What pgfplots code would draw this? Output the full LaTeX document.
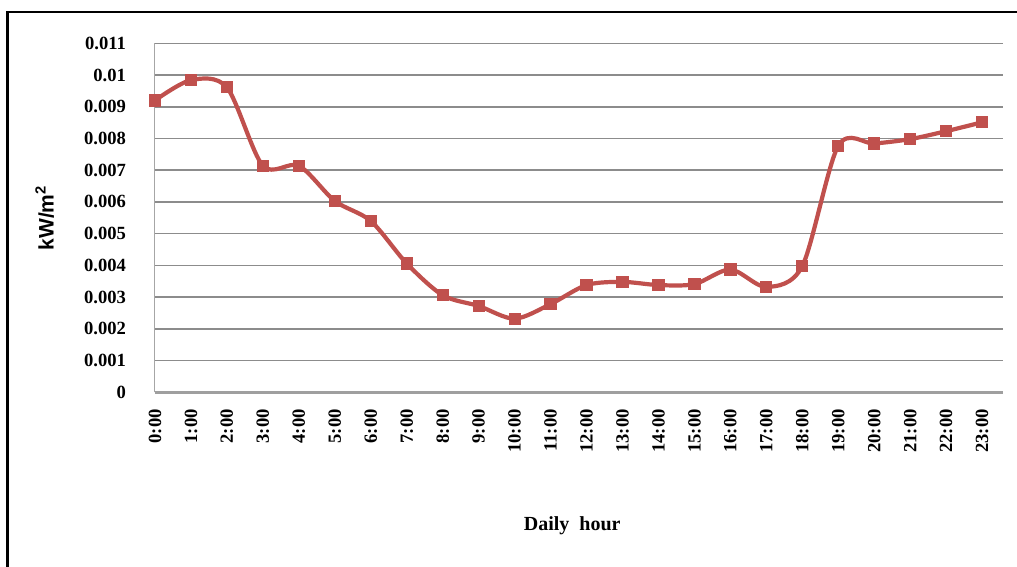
\documentclass[border=0pt]{standalone}
\usepackage{fontspec}
\setmainfont{Liberation Serif}
\newfontfamily\sansfont{Liberation Sans}
\usepackage{pgfplots}
\pgfplotsset{compat=1.18}
\definecolor{excelred}{HTML}{C0504D}
\definecolor{gridgray}{HTML}{8C8C8C}
\pgfplotstableread{
x y
0 0.00920
1 0.00984
2 0.00961
3 0.00714
4 0.00714
5 0.00603
6 0.00540
7 0.00406
8 0.00306
9 0.00272
10 0.00232
11 0.00278
12 0.00338
13 0.00348
14 0.00338
15 0.00341
16 0.00387
17 0.00332
18 0.00398
19 0.00777
20 0.00784
21 0.00798
22 0.00823
23 0.00851
}\datatable
\begin{document}
\begin{tikzpicture}
\useasboundingbox (0,0) rectangle (508.5pt,283.5pt);
% outer frame (left and top edges visible)
\draw[line width=1.3pt,black] (3.6pt,0) -- (3.6pt,277.5pt) -- (508.5pt,277.5pt);
\begin{axis}[
  at={(77.5pt,87.35pt)}, anchor=south west,
  scale only axis, width=424pt, height=174.5pt,
  xmin=0, xmax=23.58, ymin=0, ymax=0.011,
  clip=false,
  axis x line=bottom, axis y line=left,
  axis line style={-},
  x axis line style={draw=gray!75, line width=1.5pt},
  y axis line style={draw=gray!70, line width=0.5pt},
  major tick length=0pt,
  xtick={0,1,...,23},
  xticklabels={0:00,1:00,2:00,3:00,4:00,5:00,6:00,7:00,8:00,9:00,10:00,11:00,12:00,13:00,14:00,15:00,16:00,17:00,18:00,19:00,20:00,21:00,22:00,23:00},
  ytick={0,0.001,0.002,0.003,0.004,0.005,0.006,0.007,0.008,0.009,0.01,0.011},
  yticklabels={0,0.001,0.002,0.003,0.004,0.005,0.006,0.007,0.008,0.009,0.01,0.011},
  scaled y ticks=false,
  ymajorgrids,
  grid style={draw=gridgray, line width=0.75pt},
  ticklabel style={font=\fontsize{9.3}{11}\selectfont\bfseries},
  yticklabel style={anchor=east, xshift=-11pt},
  xticklabel style={yshift=-5pt, rotate=90, anchor=east},
  ylabel={\sansfont\bfseries kW/m\textsuperscript{2}},
  ylabel style={at={(axis description cs:-0.13,0.5)}, anchor=center, font=\fontsize{10.5}{12}\selectfont},
  xlabel={\bfseries Daily\ \ hour},
  xlabel style={at={(axis description cs:0.492,-0.381)}, anchor=center, font=\fontsize{10}{12}\selectfont},
]
\addplot[color=excelred, line width=2.1pt, smooth, tension=0.5,
  mark=square*, mark size=2.8pt, mark options={fill=excelred, draw=excelred, line width=0pt}]
  table[x=x,y=y] {\datatable};
\end{axis}
\end{tikzpicture}
\end{document}
